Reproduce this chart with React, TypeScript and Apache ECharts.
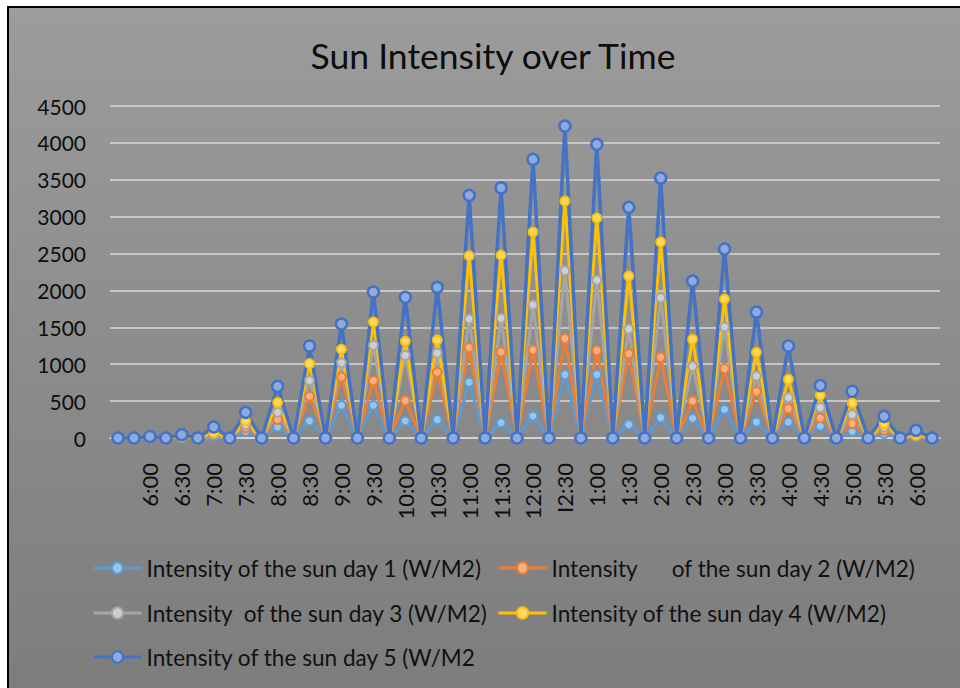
import React, { useEffect, useRef } from "react";
import * as echarts from "echarts";

const timeLabels = ["", "", "6:00", "", "6:30", "", "7:00", "", "7:30", "", "8:00", "", "8:30", "", "9:00", "", "9:30", "", "10:00", "", "10:30", "", "11:00", "", "11:30", "", "12:00", "", "I2:30", "", "1:00", "", "1:30", "", "2:00", "", "2:30", "", "3:00", "", "3:30", "", "4:00", "", "4:30", "", "5:00", "", "5:30", "", "6:00", ""];

const day1 = [0, 0, 5, 0, 8, 0, 20, 0, 90, 0, 150, 0, 230, 0, 443, 0, 443, 0, 230, 0, 249, 0, 755, 0, 206, 0, 298, 0, 859, 0, 859, 0, 181, 0, 276, 0, 267, 0, 387, 0, 217, 0, 217, 0, 163, 0, 91, 0, 60, 0, 10, 0];
const day2 = [0, 0, 6, 0, 12, 0, 40, 0, 140, 0, 250, 0, 565, 0, 827, 0, 777, 0, 507, 0, 890, 0, 1225, 0, 1165, 0, 1193, 0, 1347, 0, 1184, 0, 1143, 0, 1093, 0, 501, 0, 940, 0, 629, 0, 398, 0, 271, 0, 195, 0, 104, 0, 20, 0];
const day3 = [0, 0, 8, 0, 15, 0, 55, 0, 180, 0, 350, 0, 780, 0, 1020, 0, 1256, 0, 1120, 0, 1150, 0, 1612, 0, 1622, 0, 1803, 0, 2268, 0, 2141, 0, 1477, 0, 1902, 0, 972, 0, 1504, 0, 840, 0, 547, 0, 412, 0, 317, 0, 149, 0, 30, 0];
const day4 = [0, 0, 10, 0, 20, 0, 70, 0, 230, 0, 480, 0, 1008, 0, 1202, 0, 1572, 0, 1310, 0, 1328, 0, 2471, 0, 2478, 0, 2792, 0, 3212, 0, 2981, 0, 2195, 0, 2656, 0, 1337, 0, 1884, 0, 1161, 0, 795, 0, 579, 0, 474, 0, 195, 0, 40, 0];
const day5 = [0, 0, 20, 0, 45, 0, 149, 0, 348, 0, 700, 0, 1247, 0, 1545, 0, 1979, 0, 1907, 0, 2042, 0, 3289, 0, 3390, 0, 3776, 0, 4228, 0, 3980, 0, 3126, 0, 3523, 0, 2127, 0, 2561, 0, 1707, 0, 1247, 0, 710, 0, 633, 0, 294, 0, 104, 0];

const seriesNames = [
  "Intensity of the sun day 1 (W/M2)",
  "Intensity      of the sun day 2 (W/M2)",
  "Intensity  of the sun day 3 (W/M2)",
  "Intensity of the sun day 4 (W/M2)",
  "Intensity of the sun day 5 (W/M2",
];
const yTicks = [0, 500, 1000, 1500, 2000, 2500, 3000, 3500, 4000, 4500];

const FONT = "Lato";

function mkSeries(name: string, data: number[], color: string, fill: string, size: number, lw: number, bw: number) {
  return {
    type: "line",
    name,
    data,
    symbol: "circle",
    symbolSize: size,
    showSymbol: true,
    lineStyle: { color, width: lw },
    itemStyle: { color: fill, borderColor: color, borderWidth: bw },
    emphasis: { disabled: true },
  };
}

function mkLegend(name: string, left: number, top: number) {
  return {
    data: [name],
    left,
    top,
    itemWidth: 48,
    itemHeight: 14,
    padding: 0,
    selectedMode: false,
    lineStyle: { width: 3 },
    textStyle: { fontFamily: FONT, fontSize: 22.6, color: "#111111", lineHeight: 24 },
  };
}

export default function App() {
  const ref = useRef<HTMLDivElement>(null);
  useEffect(() => {
    if (!ref.current) return;
    const chart = echarts.init(ref.current, null, { renderer: "svg" });
    chart.setOption({
      animation: false,
      title: {
        text: "Sun Intensity over Time",
        left: 488,
        textAlign: "center",
        top: 32,
        textStyle: { fontFamily: FONT, fontSize: 35.5, fontWeight: "normal", color: "#0d0d0d" },
      },
      grid: { left: 110, right: 20, top: 106, bottom: 250, containLabel: false },
      xAxis: {
        type: "category",
        data: timeLabels,
        boundaryGap: true,
        axisTick: { show: false },
        axisLine: { show: true, lineStyle: { color: "#d9d9d9", width: 1.5 } },
        axisLabel: { interval: 0, rotate: 90, fontFamily: FONT, fontSize: 22, color: "#0d0d0d", margin: 25 },
        splitLine: { show: false },
      },
      yAxis: {
        type: "value",
        min: yTicks[0],
        max: yTicks[yTicks.length - 1],
        interval: 500,
        axisLine: { show: false },
        axisTick: { show: false },
        axisLabel: { fontFamily: FONT, fontSize: 21, color: "#0d0d0d", margin: 24, formatter: (v: number) => String(v) },
        splitLine: { lineStyle: { color: "#d9d9d9", width: 1.5 } },
      },
      legend: [
        mkLegend(seriesNames[0], 92, 556),
        mkLegend(seriesNames[1], 497, 556),
        mkLegend(seriesNames[2], 92, 601),
        mkLegend(seriesNames[3], 497, 601),
        mkLegend(seriesNames[4], 92, 645),
      ],
      series: [
        mkSeries(seriesNames[0], day1, "#5B9BD5", "#9DC3E6", 9, 3, 2),
        mkSeries(seriesNames[1], day2, "#ED7D31", "#F4B183", 9, 3, 2),
        mkSeries(seriesNames[2], day3, "#A5A5A5", "#CFCFCF", 9, 3, 2),
        mkSeries(seriesNames[3], day4, "#FFC000", "#FFD966", 9, 3, 2),
        mkSeries(seriesNames[4], day5, "#4472C4", "#8FAADC", 11, 3.5, 2.5),
      ],
    });
    return () => chart.dispose();
  }, []);
  return (
    <div style={{ position: "absolute", left: 0, top: 0, width: 960, height: 688, background: "#ffffff", overflow: "hidden" }}>
      <div
        style={{
          position: "absolute",
          left: 7,
          top: 6,
          width: 960,
          height: 700,
          boxSizing: "border-box",
          borderLeft: "2px solid #000",
          borderTop: "2px solid #000",
          background: "linear-gradient(#9c9c9c, #7c7c7c)",
        }}
      />
      <div ref={ref} style={{ position: "absolute", left: 0, top: 0, width: 960, height: 688 }} />
    </div>
  );
}
